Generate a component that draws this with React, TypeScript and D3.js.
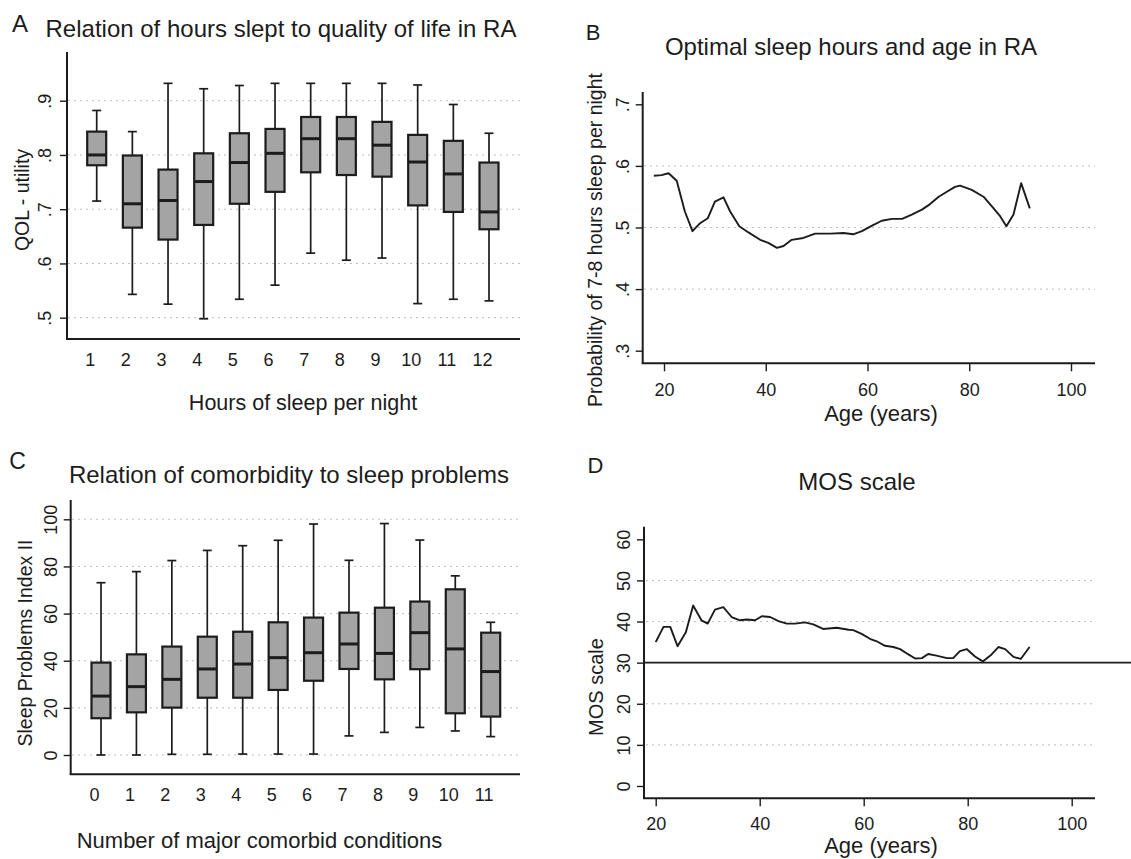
import React, { useEffect, useRef } from "react";
import * as d3 from "d3";

// Panel A: QOL utility by hours of sleep per night
const hoursSlept = ["1", "2", "3", "4", "5", "6", "7", "8", "9", "10", "11", "12"];
const qolUpper = [0.882, 0.843, 0.932, 0.922, 0.928, 0.932, 0.932, 0.932, 0.932, 0.929, 0.893, 0.84];
const qolQ3 = [0.843, 0.799, 0.773, 0.803, 0.84, 0.848, 0.87, 0.87, 0.861, 0.837, 0.826, 0.786];
const qolMedian = [0.8, 0.71, 0.716, 0.751, 0.786, 0.803, 0.83, 0.83, 0.818, 0.787, 0.765, 0.695];
const qolQ1 = [0.781, 0.666, 0.644, 0.671, 0.71, 0.732, 0.768, 0.763, 0.76, 0.707, 0.695, 0.663];
const qolLower = [0.715, 0.543, 0.525, 0.498, 0.534, 0.56, 0.619, 0.606, 0.61, 0.526, 0.534, 0.531];
const qolTicks = [0.5, 0.6, 0.7, 0.8, 0.9];

// Panel B: probability of 7-8 hours sleep by age
const ageB = [18, 19.5, 20.9, 22.5, 24.1, 25.6, 27.1, 28.6, 30, 31.7, 33, 34.8, 36.6, 38.9, 40.5, 42.2, 43.5, 45.1, 47.4, 49.7, 52.7, 55.3, 57.2, 58.9, 60.9, 62.8, 64.8, 66.8, 68.7, 70.7, 72.3, 74, 75.6, 77.2, 78.2, 80.5, 82.8, 84.5, 86.1, 87.3, 88.7, 90.2, 91.9];
const probB = [0.584, 0.585, 0.588, 0.576, 0.526, 0.494, 0.507, 0.515, 0.542, 0.549, 0.526, 0.502, 0.492, 0.48, 0.475, 0.467, 0.47, 0.48, 0.483, 0.49, 0.49, 0.491, 0.489, 0.494, 0.503, 0.511, 0.514, 0.514, 0.521, 0.529, 0.538, 0.55, 0.558, 0.566, 0.568, 0.561, 0.55, 0.534, 0.518, 0.502, 0.521, 0.572, 0.531];
const probTicks = [0.3, 0.4, 0.5, 0.6, 0.7];
const probGrid = [0.4, 0.5, 0.6];

// Panel C: sleep problems index by number of comorbid conditions
const comorbidCount = ["0", "1", "2", "3", "4", "5", "6", "7", "8", "9", "10", "11"];
const spiUpper = [73.1, 77.8, 82.5, 86.8, 88.8, 91.1, 98, 82.6, 98.2, 91.2, 76, 56.3];
const spiQ3 = [39.2, 42.7, 46, 50.2, 52.3, 56.3, 58.3, 60.4, 62.5, 65.1, 70.3, 51.9];
const spiMedian = [25, 29, 32.1, 36.5, 38.6, 41.3, 43.4, 47.1, 43.1, 51.9, 45, 35.4];
const spiQ1 = [15.6, 18.1, 20.1, 24.3, 24.3, 27.6, 31.5, 36.5, 32.1, 36.4, 17.7, 16.3];
const spiLower = [0, 0, 0.3, 0.3, 0.4, 0.4, 0.4, 8.1, 9.6, 11.7, 10.2, 7.8];
const spiTicks = [0, 20, 40, 60, 80, 100];

// Panel D: MOS scale by age
const ageD = [20, 21.5, 22.8, 24.2, 25.8, 27.2, 28.8, 30, 31.4, 33, 34.6, 36.2, 37.5, 39.1, 40.4, 42, 43.6, 45.2, 46.8, 48.7, 50.3, 52.2, 54.8, 57.1, 58, 59.6, 61.2, 62.5, 64.1, 65.7, 67, 68.6, 69.9, 71.2, 72.4, 74, 76, 77.2, 78.5, 79.8, 81.4, 82.9, 84.6, 85.9, 87.2, 88.8, 90.2, 91.9];
const mosD = [35, 38.7, 38.7, 34, 37.4, 43.9, 40.3, 39.5, 42.9, 43.5, 41.1, 40.3, 40.5, 40.3, 41.3, 41.1, 40.1, 39.5, 39.5, 39.8, 39.3, 38.2, 38.5, 38, 37.9, 37, 35.8, 35.2, 34.1, 33.8, 33.3, 32, 31, 31.1, 32.1, 31.7, 31.1, 31.1, 32.8, 33.3, 31.5, 30.3, 32, 33.8, 33.3, 31.4, 30.9, 33.8];
const mosTicks = [0, 10, 20, 30, 40, 50, 60];
const mosGrid = [10, 20, 40, 50];
const mosReference = 30;

const ageTicks = [20, 40, 60, 80, 100];

const ink = "#1c1c1c";
const boxFill = "#a4a4a4";
const gridColor = "#bdbdbd";
const fontFamily = "'Liberation Sans', Arial, Helvetica, sans-serif";
const tickFont = 18;

const dotFormat = (d) => d3.format(".1f")(d).replace(/^0/, "");

function addText(g, txt, x, y, size) {
  return g
    .append("text")
    .text(txt)
    .attr("x", x)
    .attr("y", y)
    .attr("font-size", size)
    .attr("font-family", fontFamily)
    .attr("fill", ink)
    .attr("text-anchor", "middle");
}

function addVerticalLabel(g, txt, cx, cy, size) {
  g.append("text")
    .text(txt)
    .attr("transform", "rotate(-90)")
    .attr("x", -cy)
    .attr("y", cx)
    .attr("dy", "0.36em")
    .attr("font-size", size)
    .attr("font-family", fontFamily)
    .attr("fill", ink)
    .attr("text-anchor", "middle");
}

function yAxis(g, scale, values, fmt, x, offset) {
  const a = g
    .append("g")
    .attr("transform", `translate(${x},0)`)
    .call(d3.axisLeft(scale).tickValues(values).tickSize(7).tickFormat(fmt));
  a.select(".domain").remove();
  a.attr("font-family", fontFamily).attr("font-size", tickFont);
  a.selectAll(".tick line").attr("stroke", ink).attr("stroke-width", 1.4);
  a.selectAll(".tick text")
    .attr("x", 0)
    .attr("y", -offset)
    .attr("dy", null)
    .attr("text-anchor", "middle")
    .attr("transform", "rotate(-90)")
    .attr("fill", ink);
}

function xAxis(g, axis, y, shift) {
  const a = g.append("g").attr("transform", `translate(0,${y})`).call(axis);
  a.select(".domain").remove();
  a.attr("font-family", fontFamily).attr("font-size", tickFont);
  a.selectAll(".tick line").attr("stroke", ink).attr("stroke-width", 1.4);
  a.selectAll(".tick text").attr("fill", ink).attr("x", shift);
  return a;
}

function frame(g, x0, x1, yTop, yBottom) {
  g.append("line").attr("x1", x0).attr("x2", x0).attr("y1", yTop).attr("y2", yBottom)
    .attr("stroke", ink).attr("stroke-width", 2);
  g.append("line").attr("x1", x0 - 1).attr("x2", x1).attr("y1", yBottom).attr("y2", yBottom)
    .attr("stroke", ink).attr("stroke-width", 2);
}

function grid(g, scale, values, x0, x1) {
  g.append("g")
    .selectAll("line")
    .data(values)
    .join("line")
    .attr("x1", x0)
    .attr("x2", x1)
    .attr("y1", (d) => scale(d))
    .attr("y2", (d) => scale(d))
    .attr("stroke", gridColor)
    .attr("stroke-width", 1)
    .attr("stroke-dasharray", "2 4");
}

function boxes(g, x, y, cats, upper, q3, med, q1, lower) {
  const rows = cats.map((c, i) => ({ c, hi: upper[i], q3: q3[i], med: med[i], q1: q1[i], lo: lower[i] }));
  const bw = 19;
  const cap = 4.5;
  const b = g
    .append("g")
    .selectAll("g")
    .data(rows)
    .join("g")
    .attr("transform", (d) => `translate(${x(d.c)},0)`);
  b.append("line").attr("y1", (d) => y(d.hi)).attr("y2", (d) => y(d.q3))
    .attr("stroke", ink).attr("stroke-width", 1.7);
  b.append("line").attr("y1", (d) => y(d.q1)).attr("y2", (d) => y(d.lo))
    .attr("stroke", ink).attr("stroke-width", 1.7);
  b.append("line").attr("x1", -cap).attr("x2", cap).attr("y1", (d) => y(d.hi)).attr("y2", (d) => y(d.hi))
    .attr("stroke", ink).attr("stroke-width", 1.7);
  b.append("line").attr("x1", -cap).attr("x2", cap).attr("y1", (d) => y(d.lo)).attr("y2", (d) => y(d.lo))
    .attr("stroke", ink).attr("stroke-width", 1.7);
  b.append("rect")
    .attr("x", -bw / 2)
    .attr("width", bw)
    .attr("y", (d) => y(d.q3))
    .attr("height", (d) => y(d.q1) - y(d.q3))
    .attr("fill", boxFill)
    .attr("stroke", ink)
    .attr("stroke-width", 2.2);
  b.append("line").attr("x1", -bw / 2).attr("x2", bw / 2).attr("y1", (d) => y(d.med)).attr("y2", (d) => y(d.med))
    .attr("stroke", ink).attr("stroke-width", 3);
}

function ageLine(g, x, y, ages, values) {
  const line = d3.line().x((d) => x(d[0])).y((d) => y(d[1]));
  g.append("path")
    .datum(ages.map((a, i) => [a, values[i]]))
    .attr("d", line)
    .attr("fill", "none")
    .attr("stroke", ink)
    .attr("stroke-width", 1.9)
    .attr("stroke-linejoin", "round");
}

const App = () => {
  const ref = useRef();

  useEffect(() => {
    const svg = d3.select(ref.current);
    svg.selectAll("*").remove();
    svg.append("rect").attr("width", 1131).attr("height", 859).attr("fill", "#fff");

    // A
    const gA = svg.append("g");
    const xA = d3.scalePoint().domain(hoursSlept).range([96.7, 489]);
    const yA = d3.scaleLinear().domain([0.5, 0.9]).range([317.7, 100.7]);
    grid(gA, yA, qolTicks, 68, 520);
    boxes(gA, xA, yA, hoursSlept, qolUpper, qolQ3, qolMedian, qolQ1, qolLower);
    frame(gA, 67, 520, 52, 339);
    yAxis(gA, yA, qolTicks, dotFormat, 67, 16);
    xAxis(gA, d3.axisBottom(xA).tickSize(0).tickPadding(14.5), 339, -7);
    addText(gA, "A", 20, 32, 24);
    addText(gA, "Relation of hours slept to quality of life in RA", 281, 37, 24);
    addText(gA, "Hours of sleep per night", 303, 410, 21.5);
    addVerticalLabel(gA, "QOL - utility", 22, 200, 19.5);

    // B
    const gB = svg.append("g");
    const xB = d3.scaleLinear().domain([20, 100]).range([664, 1071]);
    const yB = d3.scaleLinear().domain([0.3, 0.7]).range([350.7, 104.3]);
    grid(gB, yB, probGrid, 644, 1095);
    frame(gB, 642.7, 1095, 92, 363.3);
    yAxis(gB, yB, probTicks, dotFormat, 642.7, 14);
    xAxis(gB, d3.axisBottom(xB).tickValues(ageTicks).tickSize(8).tickPadding(12), 363.3, 0);
    ageLine(gB, xB, yB, ageB, probB);
    addText(gB, "B", 593, 40, 22);
    addText(gB, "Optimal sleep hours and age in RA", 851, 55, 24);
    addText(gB, "Age (years)", 881, 421, 22);
    addVerticalLabel(gB, "Probability of 7-8 hours sleep per night", 595, 240, 19.5);

    // C
    const gC = svg.append("g");
    const xC = d3.scalePoint().domain(comorbidCount).range([101, 490.7]);
    const yC = d3.scaleLinear().domain([0, 100]).range([755, 519.3]);
    grid(gC, yC, spiTicks, 72, 520);
    boxes(gC, xC, yC, comorbidCount, spiUpper, spiQ3, spiMedian, spiQ1, spiLower);
    frame(gC, 70.7, 520, 500, 774.3);
    yAxis(gC, yC, spiTicks, (d) => String(d), 70.7, 13.5);
    xAxis(gC, d3.axisBottom(xC).tickSize(0).tickPadding(14), 774.3, -7);
    addText(gC, "C", 17.5, 469, 23);
    addText(gC, "Relation of comorbidity to sleep problems", 289, 483, 24);
    addText(gC, "Number of major comorbid conditions", 259.5, 848, 22);
    addVerticalLabel(gC, "Sleep Problems Index II", 25, 643, 19.5);

    // D
    const gD = svg.append("g");
    const xD = d3.scaleLinear().domain([20, 100]).range([655.7, 1071.7]);
    const yD = d3.scaleLinear().domain([0, 60]).range([786, 539.3]);
    grid(gD, yD, mosGrid, 646, 1095);
    gD.append("line")
      .attr("x1", 644).attr("x2", 1131)
      .attr("y1", yD(mosReference)).attr("y2", yD(mosReference))
      .attr("stroke", ink).attr("stroke-width", 1.7);
    frame(gD, 644, 1095, 526.7, 798.3);
    yAxis(gD, yD, mosTicks, (d) => String(d), 644, 14.5);
    xAxis(gD, d3.axisBottom(xD).tickValues(ageTicks).tickSize(8).tickPadding(10.5), 798.3, 0);
    ageLine(gD, xD, yD, ageD, mosD);
    addText(gD, "D", 595.5, 473, 22);
    addText(gD, "MOS scale", 857, 490, 24);
    addText(gD, "Age (years)", 881, 853, 22);
    addVerticalLabel(gD, "MOS scale", 596, 687, 20);
  }, []);

  return (
    <svg
      ref={ref}
      width={1131}
      height={859}
      style={{ position: "absolute", left: 0, top: 0 }}
    ></svg>
  );
};

export default App;
